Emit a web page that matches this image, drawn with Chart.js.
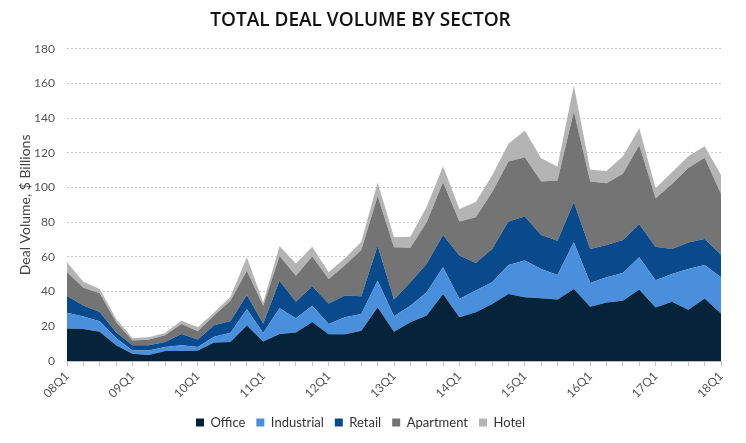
<!DOCTYPE html>
<html lang="en">
    <head>
        <meta charset="UTF-8">
        <title>Total Deal Volume by Sector</title>
        <script src="https://cdn.jsdelivr.net/npm/chart.js"></script>
        <style>
            body,
            html {
                margin: 0;
                padding: 0;
                background: #ffffff;
            }
            .chart-box {
                width: 746px;
                height: 443px;
                position: relative;
            }
        </style>
    </head>
    <body>
        <div class="chart-box">
            <canvas id="dealChart"></canvas>
        </div>

        <script>
            const quarters = [
                '08Q1', '08Q2', '08Q3', '08Q4',
                '09Q1', '09Q2', '09Q3', '09Q4',
                '10Q1', '10Q2', '10Q3', '10Q4',
                '11Q1', '11Q2', '11Q3', '11Q4',
                '12Q1', '12Q2', '12Q3', '12Q4',
                '13Q1', '13Q2', '13Q3', '13Q4',
                '14Q1', '14Q2', '14Q3', '14Q4',
                '15Q1', '15Q2', '15Q3', '15Q4',
                '16Q1', '16Q2', '16Q3', '16Q4',
                '17Q1', '17Q2', '17Q3', '17Q4',
                '18Q1'
            ];

            // $ billions per quarter
            const office = [18.7, 18.5, 16.8, 9.1, 4.2, 3.4, 5.7, 5.7, 6.1, 10.6, 11.0, 20.5, 11.2, 15.6, 16.5, 22.5, 15.4, 15.4, 17.5, 31.0, 16.9, 22.3, 26.2, 38.7, 25.2, 28.1, 32.9, 38.7, 36.7, 36.2, 35.4, 41.5, 31.3, 33.8, 34.8, 41.2, 30.8, 34.2, 29.6, 36.0, 27.4];
            const industrial = [9.1, 7.2, 6.1, 4.2, 1.9, 2.7, 2.3, 3.4, 1.9, 3.4, 5.3, 9.3, 4.9, 14.8, 8.1, 9.4, 5.9, 9.8, 9.6, 15.3, 8.9, 9.6, 13.4, 15.3, 10.6, 12.5, 12.5, 16.7, 21.2, 16.9, 14.2, 27.0, 13.7, 14.5, 16.0, 18.6, 15.8, 16.0, 23.5, 19.4, 20.9];
            const retail = [9.7, 6.3, 5.3, 3.3, 3.0, 3.0, 3.0, 6.5, 4.4, 6.6, 6.7, 8.2, 5.5, 15.8, 9.6, 11.2, 11.8, 12.5, 10.2, 20.1, 9.7, 13.5, 16.4, 18.7, 25.0, 15.9, 19.2, 25.0, 25.4, 19.6, 19.8, 23.0, 19.6, 18.6, 19.0, 19.0, 19.3, 14.4, 15.2, 15.0, 12.9];
            const apartment = [13.7, 10.3, 10.8, 5.9, 2.7, 3.1, 3.9, 5.7, 4.7, 5.6, 11.8, 14.1, 10.1, 14.4, 15.0, 17.2, 14.2, 17.5, 26.7, 28.6, 30.1, 19.9, 24.0, 30.3, 19.7, 26.4, 32.7, 34.6, 34.2, 30.8, 34.6, 52.3, 38.9, 35.6, 38.1, 45.6, 27.9, 37.5, 43.0, 46.8, 35.1];
            const hotel = [5.7, 3.4, 2.5, 1.9, 1.5, 1.5, 1.3, 1.9, 2.3, 1.8, 2.2, 7.7, 2.1, 5.7, 7.0, 5.6, 3.9, 4.1, 4.8, 7.9, 5.7, 6.3, 9.0, 9.3, 7.2, 8.8, 9.6, 10.2, 15.4, 13.4, 8.1, 15.0, 6.7, 7.1, 10.1, 9.8, 5.8, 6.7, 6.7, 6.6, 10.9];

            const seriesNames = ['Office', 'Industrial', 'Retail', 'Apartment', 'Hotel'];
            const seriesColors = ['#05243a', '#4a8fdb', '#084a8c', '#747474', '#b4b4b4'];
            const seriesData = [office, industrial, retail, apartment, hotel];

            const datasets = seriesNames.map((name, i) => ({
                label: name,
                data: seriesData[i],
                backgroundColor: seriesColors[i],
                borderColor: seriesColors[i],
                borderWidth: 0,
                pointRadius: 0,
                tension: 0,
                fill: i === 0 ? 'origin' : '-1'
            }));

            const ctx = document
                .getElementById('dealChart')
                .getContext('2d');

            new Chart(ctx, {
                type: 'line',
                data: {
                    labels: quarters,
                    datasets: datasets
                },
                options: {
                    responsive: true,
                    maintainAspectRatio: false,
                    animation: false,
                    layout: {
                        padding: {left: 0, right: 25, top: 0, bottom: 4}
                    },
                    plugins: {
                        title: {
                            display: true,
                            text: 'TOTAL DEAL VOLUME BY SECTOR',
                            color: '#111111',
                            font: {family: 'Open Sans', size: 19, weight: '600'},
                            padding: {top: 9, bottom: 17}
                        },
                        legend: {
                            position: 'bottom',
                            labels: {
                                boxWidth: 8,
                                boxHeight: 8,
                                padding: 11,
                                color: '#333333',
                                font: {family: 'Lato', size: 13}
                            }
                        },
                        tooltip: {enabled: false}
                    },
                    scales: {
                        x: {
                            offset: false,
                            grid: {
                                drawOnChartArea: false,
                                tickLength: 5,
                                color: '#c0c0c0'
                            },
                            border: {display: true, color: '#c0c0c0'},
                            ticks: {
                                autoSkip: false,
                                maxRotation: 45,
                                minRotation: 45,
                                color: '#555555',
                                font: {family: 'Lato', size: 12},
                                callback: (value, index) => index % 4 === 0 ? quarters[index] : ''
                            },
                            afterFit: (scale) => {
                                scale.height = 44;
                            }
                        },
                        y: {
                            stacked: true,
                            min: 0,
                            max: 180,
                            grid: {
                                color: '#c8c8c8',
                                drawTicks: false
                            },
                            border: {display: false, dash: [2, 2]},
                            ticks: {
                                stepSize: 20,
                                padding: 12,
                                color: '#555555',
                                font: {family: 'Lato', size: 12}
                            },
                            title: {
                                display: true,
                                text: 'Deal Volume, $ Billions',
                                color: '#444444',
                                font: {family: 'Lato', size: 14},
                                padding: {top: 17, bottom: 0}
                            },
                            afterFit: (scale) => {
                                scale.width = 67;
                            }
                        }
                    }
                }
            });
        </script>
    </body>
</html>
